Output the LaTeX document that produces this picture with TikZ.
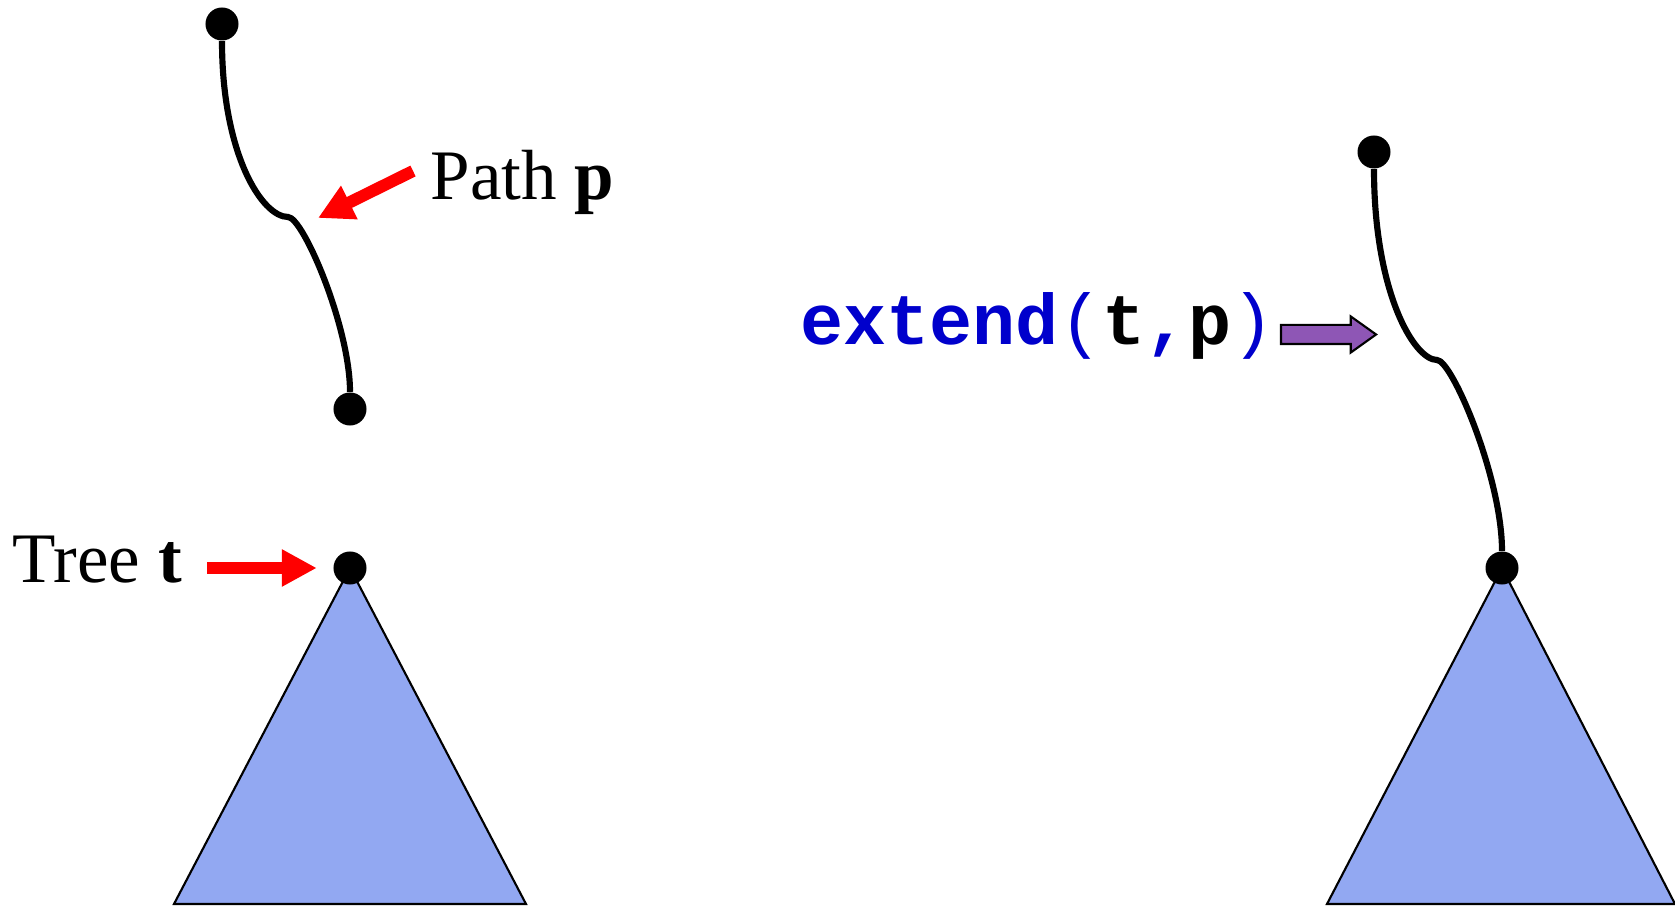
\documentclass[tikz,border=0pt]{standalone}
\usepackage{fontspec}
\setmainfont{Liberation Serif}
\setmonofont{Liberation Mono}
\usetikzlibrary{arrows.meta, positioning, shapes.arrows}
\definecolor{treeblue}{RGB}{146,168,242}
\definecolor{argpurple}{RGB}{142,86,181}
\definecolor{codeblue}{RGB}{0,0,204}

\begin{document}
\begin{tikzpicture}[
    x=0.01cm, y=-0.01cm,
    dot/.style={circle, fill=black, inner sep=0pt, minimum size=0.33cm},
    tree/.style={draw=black, line width=0.6pt, fill=treeblue},
    pathline/.style={line width=1.75pt},
    lbl/.style={anchor=base west, inner sep=0pt, font=\fontsize{20.2}{24}\selectfont},
    code/.style={anchor=base west, inner sep=0pt, font=\fontsize{20.4}{24}\selectfont\ttfamily\bfseries},
    redarrow/.style={red, line width=0.12cm, -{Triangle[length=0.35cm, width=0.35cm]}},
    fatarrow/.style={single arrow, draw=black, line width=0.6pt, fill=argpurple, minimum width=0.34cm, minimum height=0.95cm, single arrow head extend=0.085cm, single arrow tip angle=71, inner xsep=0pt, inner ysep=0.085cm}
]
\useasboundingbox (0,0) rectangle (1675,907);

\path[tree] (350,568) -- (174,904) -- (526,904) -- cycle;
\path[tree] (1502,568) -- (1327,904) -- (1675,904) -- cycle;

\node[dot] (ptop) at (222,24) {};
\node[dot] (pend) at (350,409) {};
\node[dot] (troot) at (350,568) {};
\node[dot] (etop) at (1374,152) {};
\node[dot] (eroot) at (1502,568) {};
\coordinate (pbend) at (288,217);
\coordinate (ebend) at (1437,360);

\draw[pathline] (ptop) .. controls (222,154) and (262,217) .. (pbend)
    .. controls (303,217) and (350,327) .. (pend);
\draw[pathline] (etop) .. controls (1374,292) and (1414,360) .. (ebend)
    .. controls (1452,360) and (1502,478) .. (eroot);

\node[lbl] (plabel) at (430,200) {Path \textbf{p}};
\node[lbl] (tlabel) at (12,583) {Tree \textbf{t}};
\node[code] (ext) at (800,345) {\textcolor{codeblue}{extend}{\mdseries\textcolor{codeblue}{(}}t\textcolor{codeblue}{,}p{\mdseries\textcolor{codeblue}{)}}};
\node[fatarrow, anchor=tail] (farrow) at ([xshift=0.05cm, yshift=0.105cm]ext.base east) {};

\coordinate (ptail) at (413,171);
\coordinate (ppoint) at (318,218);
\coordinate (ttail) at (207,568);
\draw[redarrow] (ptail) -- (ppoint);
\draw[redarrow] (ttail) -- ([xshift=-0.16cm]troot.west);
\end{tikzpicture}
\end{document}
